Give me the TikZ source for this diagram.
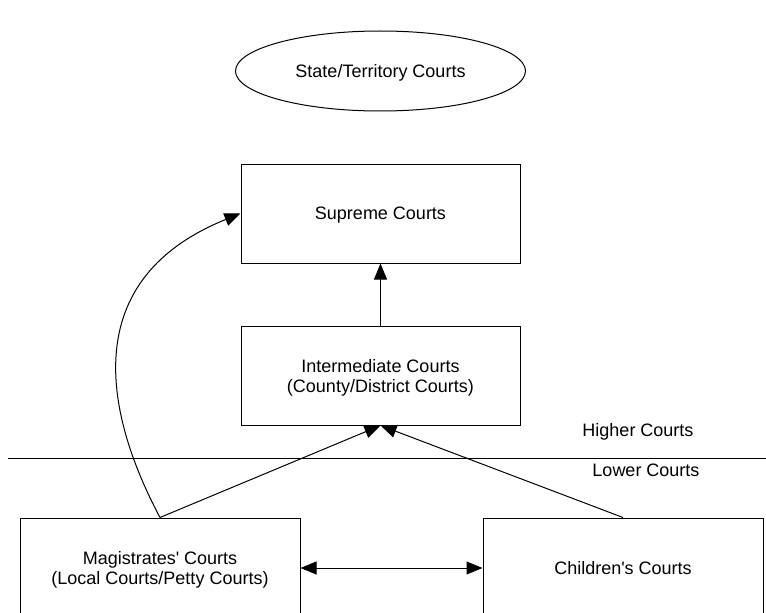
\documentclass[tikz,border=0pt]{standalone}
\usepackage{fontspec}
\setmainfont{Liberation Sans}
\usetikzlibrary{arrows.meta,calc,shapes,positioning}

\begin{document}
\begin{tikzpicture}[
    x=0.5pt, y=0.5pt,
    block/.style={rectangle, draw, line width=0.5pt, minimum width=139.5pt, minimum height=49.5pt, inner sep=0pt, align=center},
    line/.style={draw, line width=0.5pt, -{Triangle[length=8pt,width=6.5pt]}},
    every node/.append style={font=\fontsize{9}{10}\selectfont, text depth=0pt}
]
\useasboundingbox (0,0) rectangle (766,612);

% Blocks
\node[block] (inter) at (380.5,236.5) {Intermediate Courts\\(County/District Courts)};
\node[block, above=31pt of inter] (supreme) {Supreme Courts};
\node[ellipse, draw, line width=0.5pt, minimum width=145pt, minimum height=40pt, inner sep=0pt, above=26pt of supreme] (state) {State/Territory Courts};
\node[block, minimum width=140pt, minimum height=50pt] (magis) at (160,44) {Magistrates\textquotesingle{} Courts\\(Local Courts/Petty Courts)};
\node[block, minimum width=140pt, minimum height=50pt] (children) at (623,44) {Children\textquotesingle{}s Courts};

% Divider
\coordinate (divl) at (8,154);
\coordinate (divr) at (766,154);
\draw[line width=0.5pt] (divl) -- (divr);

% Lines
\draw[line] (inter) -- (supreme);
\draw[line] (magis.north) -- (inter.south);
\draw[line] (children.north) -- (inter.south);
\draw[line] (magis.north) .. controls +(118:85) and +(-158:195) .. (supreme.west);
\draw[line, {Triangle[length=8pt,width=6.5pt]}-{Triangle[length=8pt,width=6.5pt]}] (magis) -- (children);

% Labels
\node (higher) at (638,182) {Higher Courts};
\node (lower) at (646,142) {Lower Courts};

\end{tikzpicture}
\end{document}
